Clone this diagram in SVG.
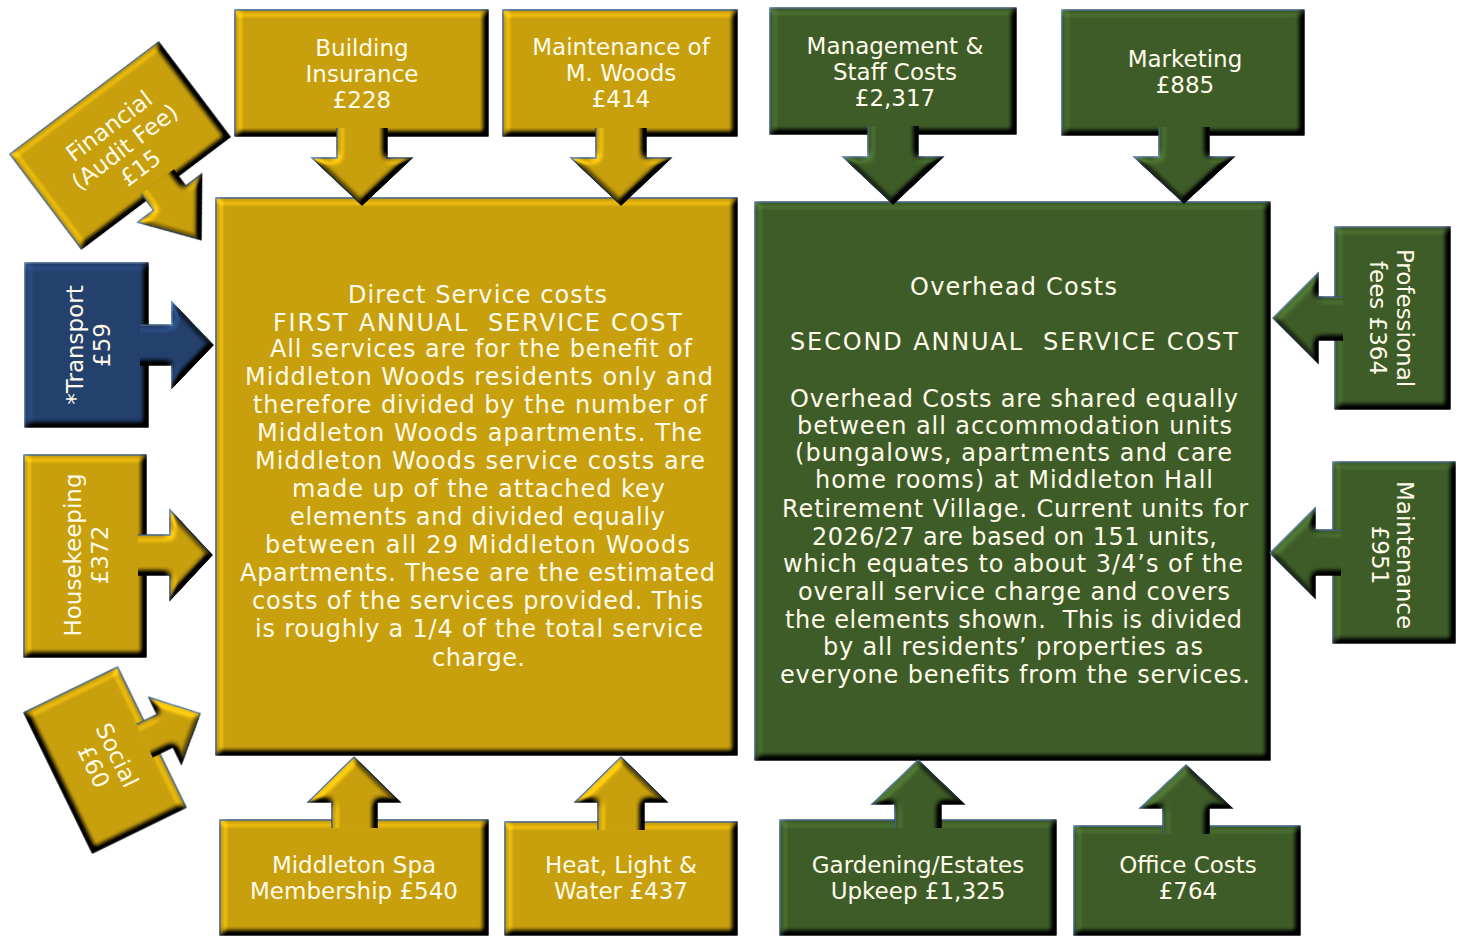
<svg xmlns="http://www.w3.org/2000/svg" width="1461" height="937" viewBox="0 0 1461 937">
<defs>
<style>
.gold{fill:#C9A00C}
.green{fill:#3E5D28}
.navy{fill:#24406D}
.sh{stroke:#4B6E95;stroke-width:1.5;filter:url(#bevel)}
text{font-family:"DejaVu Sans","Liberation Sans",sans-serif;font-size:23px;fill:#FFFBEA}
.m text{font-size:24px}
.c{text-anchor:middle}
</style>
<filter id="bevel" x="-10%" y="-10%" width="120%" height="120%" color-interpolation-filters="sRGB">
  <feGaussianBlur in="SourceAlpha" stdDeviation="3.5" result="blur"/>
  <feDiffuseLighting in="blur" surfaceScale="10" diffuseConstant="1" lighting-color="#ffffff" result="light">
    <feDistantLight azimuth="225" elevation="50"/>
  </feDiffuseLighting>
  <feComposite in="SourceGraphic" in2="light" operator="arithmetic" k1="1.3" k2="0" k3="0" k4="0" result="lit"/>
  <feComposite in="lit" in2="SourceAlpha" operator="in"/>
</filter>
<clipPath id="cB128" clipPathUnits="userSpaceOnUse"><rect x="0" y="128" width="1461" height="200"/></clipPath>
<clipPath id="cB126" clipPathUnits="userSpaceOnUse"><rect x="0" y="126" width="1461" height="200"/></clipPath>
<clipPath id="cB127" clipPathUnits="userSpaceOnUse"><rect x="0" y="127" width="1461" height="200"/></clipPath>
<clipPath id="cT828" clipPathUnits="userSpaceOnUse"><rect x="0" y="600" width="1461" height="228"/></clipPath>
<clipPath id="cT830" clipPathUnits="userSpaceOnUse"><rect x="0" y="600" width="1461" height="230"/></clipPath>
<clipPath id="cT834" clipPathUnits="userSpaceOnUse"><rect x="0" y="600" width="1461" height="234"/></clipPath>
<clipPath id="cR140" clipPathUnits="userSpaceOnUse"><rect x="140" y="0" width="200" height="937"/></clipPath>
<clipPath id="cR138" clipPathUnits="userSpaceOnUse"><rect x="138" y="0" width="200" height="937"/></clipPath>
<clipPath id="cL1343" clipPathUnits="userSpaceOnUse"><rect x="1143" y="0" width="200" height="937"/></clipPath>
<clipPath id="cL1341" clipPathUnits="userSpaceOnUse"><rect x="1141" y="0" width="200" height="937"/></clipPath>
<clipPath id="cFin" clipPathUnits="userSpaceOnUse"><rect x="-200" y="51.5" width="400" height="200"/></clipPath>
<clipPath id="cSoc" clipPathUnits="userSpaceOnUse"><rect x="-200" y="-250" width="400" height="206"/></clipPath>
</defs>
<rect width="1461" height="937" fill="#ffffff"/>

<g id="n-direct" class="m">
  <rect class="gold sh" x="216" y="198" width="521" height="557"/>
  <text x="348" y="303" textLength="259">Direct Service costs</text>
  <text x="273" y="331" textLength="409">FIRST ANNUAL&#160; SERVICE COST</text>
  <text x="270" y="357" textLength="422">All services are for the benefit of</text>
  <text x="245" y="385" textLength="468">Middleton Woods residents only and</text>
  <text x="253" y="413" textLength="454">therefore divided by the number of</text>
  <text x="257" y="441" textLength="445">Middleton Woods apartments. The</text>
  <text x="255" y="469" textLength="450">Middleton Woods service costs are</text>
  <text x="292" y="497" textLength="373">made up of the attached key</text>
  <text x="290" y="525" textLength="375">elements and divided equally</text>
  <text x="265" y="553" textLength="425">between all 29 Middleton Woods</text>
  <text x="240" y="581" textLength="475">Apartments. These are the estimated</text>
  <text x="252" y="609" textLength="451">costs of the services provided. This</text>
  <text x="255" y="637" textLength="448">is roughly a 1/4 of the total service</text>
  <text x="432" y="666" textLength="93">charge.</text>
</g>

<g id="n-overhead" class="m">
  <rect class="green sh" x="755" y="202" width="515" height="558"/>
  <text x="910" y="295" textLength="207">Overhead Costs</text>
  <text x="790" y="350" textLength="448">SECOND ANNUAL&#160; SERVICE COST</text>
  <text x="790" y="407" textLength="448">Overhead Costs are shared equally</text>
  <text x="797" y="434" textLength="435">between all accommodation units</text>
  <text x="795" y="461" textLength="437">(bungalows, apartments and care</text>
  <text x="815" y="488" textLength="398">home rooms) at Middleton Hall</text>
  <text x="782" y="517" textLength="466">Retirement Village. Current units for</text>
  <text x="812" y="545" textLength="405">2026/27 are based on 151 units,</text>
  <text x="783" y="572" textLength="460">which equates to about 3/4’s of the</text>
  <text x="798" y="600" textLength="432">overall service charge and covers</text>
  <text x="785" y="628" textLength="457">the elements shown.&#160; This is divided</text>
  <text x="823" y="655" textLength="380">by all residents’ properties as</text>
  <text x="780" y="683" textLength="470">everyone benefits from the services.</text>
</g>

<g id="n-building">
  <rect class="gold sh" x="235" y="10" width="253" height="126"/>
  <text class="c" x="362" y="56">Building</text>
  <text class="c" x="362" y="82">Insurance</text>
  <text class="c" x="362" y="108">£228</text>
</g>
<g id="n-maint-woods">
  <rect class="gold sh" x="503" y="10" width="234" height="126"/>
  <text class="c" x="621" y="55">Maintenance of</text>
  <text class="c" x="621" y="81">M. Woods</text>
  <text class="c" x="621" y="107">£414</text>
</g>
<g id="n-management">
  <rect class="green sh" x="770" y="8" width="246" height="126"/>
  <text class="c" x="895" y="54">Management &amp;</text>
  <text class="c" x="895" y="80">Staff Costs</text>
  <text class="c" x="895" y="106">£2,317</text>
</g>
<g id="n-marketing">
  <rect class="green sh" x="1062" y="10" width="242" height="125"/>
  <text class="c" x="1185" y="67">Marketing</text>
  <text class="c" x="1185" y="93">£885</text>
</g>
<g id="n-professional">
  <rect class="green sh" x="1335" y="227" width="115" height="182"/>
  <g transform="translate(1397,318) rotate(90)">
    <text class="c" x="0" y="0">Professional</text>
    <text class="c" x="0" y="27">fees £364</text>
  </g>
</g>
<g id="n-maintenance">
  <rect class="green sh" x="1333" y="462" width="122" height="181"/>
  <g transform="translate(1397,555) rotate(90)">
    <text class="c" x="0" y="0">Maintenance</text>
    <text class="c" x="0" y="25">£951</text>
  </g>
</g>
<g id="n-spa">
  <rect class="gold sh" x="220" y="820" width="268" height="115"/>
  <text class="c" x="354" y="873">Middleton Spa</text>
  <text class="c" x="354" y="899">Membership £540</text>
</g>
<g id="n-heat">
  <rect class="gold sh" x="505" y="822" width="232" height="113"/>
  <text class="c" x="621" y="873">Heat, Light &amp;</text>
  <text class="c" x="621" y="899">Water £437</text>
</g>
<g id="n-gardening">
  <rect class="green sh" x="780" y="820" width="276" height="115"/>
  <text class="c" x="918" y="873">Gardening/Estates</text>
  <text class="c" x="918" y="899">Upkeep £1,325</text>
</g>
<g id="n-office">
  <rect class="green sh" x="1074" y="826" width="226" height="109"/>
  <text class="c" x="1188" y="873">Office Costs</text>
  <text class="c" x="1188" y="899">£764</text>
</g>
<g id="n-transport">
  <rect class="navy sh" x="25" y="263" width="123" height="164"/>
  <g transform="translate(83,345) rotate(-90)">
    <text class="c" x="0" y="0">*Transport</text>
    <text class="c" x="0" y="27">£59</text>
  </g>
</g>
<g id="n-housekeeping">
  <rect class="gold sh" x="24" y="455" width="122" height="202"/>
  <g transform="translate(81,555) rotate(-90)">
    <text class="c" x="0" y="0">Housekeeping</text>
    <text class="c" x="0" y="27">£372</text>
  </g>
</g>
<g id="n-financial" transform="translate(120,145.5) rotate(-37)">
  <rect class="gold sh" x="-93" y="-59.5" width="186" height="119"/>
  <text class="c" x="3" y="-14">Financial</text>
  <text class="c" x="3" y="12">(Audit Fee)</text>
  <text class="c" x="3" y="38">£15</text>
</g>
<g id="n-social" transform="translate(105,760) rotate(64)">
  <rect class="gold sh" x="-78" y="-52" width="156" height="104"/>
  <text class="c" x="1" y="-5">Social</text>
  <text class="c" x="1" y="21">£60</text>
</g>

<g id="connectors">
  <path class="gold sh" clip-path="url(#cB128)" d="M337,116 V158 H312 L362,205 L412,158 H387 V116 Z"/>
  <path class="gold sh" clip-path="url(#cB128)" d="M596,116 V158 H571 L621,205 L671,158 H646 V116 Z"/>
  <path class="green sh" clip-path="url(#cB126)" d="M868,114 V157 H843 L893,204 L943,157 H918 V114 Z"/>
  <path class="green sh" clip-path="url(#cB127)" d="M1159,115 V157 H1134 L1184,203 L1234,157 H1209 V115 Z"/>
  <path class="gold sh" clip-path="url(#cT828)" d="M332,840 V802 H308 L354,757 L400,802 H377 V840 Z"/>
  <path class="gold sh" clip-path="url(#cT830)" d="M598,842 V802 H575 L621,757 L667,802 H644 V842 Z"/>
  <path class="green sh" clip-path="url(#cT828)" d="M895,840 V804 H872 L918,760 L964,804 H941 V840 Z"/>
  <path class="green sh" clip-path="url(#cT834)" d="M1163,846 V808 H1140 L1186,765 L1232,808 H1209 V846 Z"/>
  <path class="navy sh" clip-path="url(#cR140)" d="M128,325 H172 V302 L213,345 L172,388 V365 H128 Z"/>
  <path class="gold sh" clip-path="url(#cR138)" d="M126,535 H170 V510 L212,555 L170,600 V575 H126 Z"/>
  <path class="green sh" clip-path="url(#cL1343)" d="M1355,297 H1318 V273 L1273,318 L1318,363 V340 H1355 Z"/>
  <path class="green sh" clip-path="url(#cL1341)" d="M1353,530 H1315 V508 L1270,553 L1315,598 V575 H1353 Z"/>
  <g transform="translate(120,145.5) rotate(-37)">
    <path class="gold sh" clip-path="url(#cFin)" d="M-12,40 V72 H-32 L8,124 L48,72 H28 V40 Z"/>
  </g>
  <g transform="translate(105,760) rotate(64)">
    <path class="gold sh" clip-path="url(#cSoc)" d="M-18,-32 V-67 H-37 L0,-106 L37,-67 H18 V-32 Z"/>
  </g>
</g>
</svg>
